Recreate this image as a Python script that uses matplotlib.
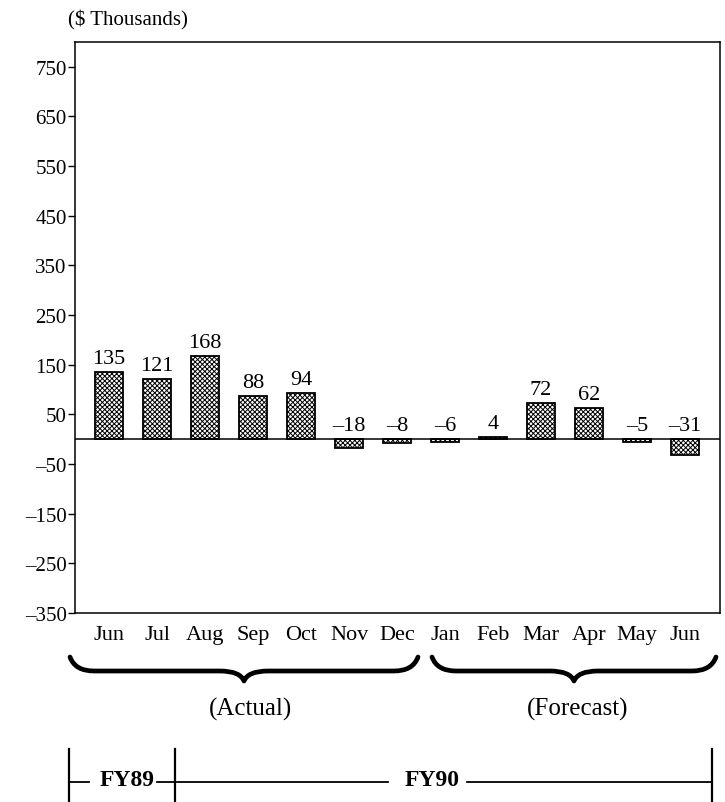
import matplotlib
matplotlib.use("Agg")
import matplotlib.pyplot as plt
from matplotlib.path import Path
from matplotlib.patches import PathPatch
from matplotlib.lines import Line2D

months = ["Jun", "Jul", "Aug", "Sep", "Oct", "Nov", "Dec",
          "Jan", "Feb", "Mar", "Apr", "May", "Jun"]
cash_flow = [135, 121, 168, 88, 94, -18, -8, -6, 4, 72, 62, -5, -31]
y_ticks = [750, 650, 550, 450, 350, 250, 150, 50, -50, -150, -250, -350]

W, H = 725, 803
plt.rcParams["font.family"] = ["Liberation Serif", "DejaVu Serif"]
plt.rcParams["hatch.linewidth"] = 0.7

fig = plt.figure(figsize=(W / 100, H / 100), dpi=100)


def fx(x, y):
    """Pixel position (origin top-left) -> figure fraction."""
    return (x / W, 1 - y / H)


ax = fig.add_axes([75 / W, 1 - 614 / H, (720 - 75) / W, (614 - 43) / H])
x = list(range(len(months)))
ax.bar(x, cash_flow, width=0.58, facecolor="white", edgecolor="black",
       hatch="xxxxxxx", linewidth=1.3, zorder=2)
ax.axhline(0, color="black", lw=1.1, zorder=3)

for xi, v in zip(x, cash_flow):
    label = str(v).replace("-", "\u2013")
    ax.text(xi, max(v, 0) + 8, label, ha="center", va="bottom", fontsize=16)

ax.set_xlim(-0.71, 12.73)
ax.set_ylim(-350, 800)
ax.set_yticks(y_ticks)
ax.set_yticklabels([str(t).replace("-", "\u2013") for t in y_ticks], fontsize=15)
ax.set_xticks(x)
ax.set_xticklabels(months, fontsize=16)
ax.tick_params(axis="x", length=0, pad=9)
ax.tick_params(axis="y", length=5, width=1, pad=1)
for s in ax.spines.values():
    s.set_linewidth(1.1)

fig.text(*fx(68, 20), "($ Thousands)", fontsize=15, ha="left", va="center")


def brace(x0, x1, ytop, ymid, ytip, r=24):
    xc = (x0 + x1) / 2
    pts = [(x0, ytop), (x0 + 5, ymid), (x0 + r, ymid),
           (xc - r, ymid),
           (xc - 4, ymid), (xc, ytip),
           (xc + 4, ymid), (xc + r, ymid),
           (x1 - r, ymid),
           (x1 - 5, ymid), (x1, ytop)]
    codes = [Path.MOVETO, Path.CURVE3, Path.CURVE3,
             Path.LINETO,
             Path.CURVE3, Path.CURVE3,
             Path.CURVE3, Path.CURVE3,
             Path.LINETO,
             Path.CURVE3, Path.CURVE3]
    verts = [fx(px, py) for px, py in pts]
    fig.add_artist(PathPatch(Path(verts, codes), fill=False, lw=3.4,
                             edgecolor="black", capstyle="round",
                             joinstyle="round", transform=fig.transFigure))


brace(70, 418, 658, 672, 682)
brace(432, 716, 658, 672, 682)
fig.text(*fx(250, 709), "(Actual)", fontsize=18, ha="center", va="center")
fig.text(*fx(578, 709), "(Forecast)", fontsize=18, ha="center", va="center")


def fline(xs, ys, lw=1.3):
    fig.add_artist(Line2D([fx(a, 0)[0] for a in xs], [fx(0, b)[1] for b in ys],
                          color="black", lw=lw, transform=fig.transFigure))


# fiscal year timeline
fline([69, 69], [750, 803], lw=1.6)
fline([175, 175], [750, 803], lw=1.6)
fline([712, 712], [750, 803], lw=1.6)
fline([69, 89], [783, 783])
fline([157, 175], [783, 783])
fline([175, 388], [783, 783])
fline([467, 712], [783, 783])
fig.text(*fx(127, 781), "FY89", fontsize=17, fontweight="bold",
         ha="center", va="center")
fig.text(*fx(432, 781), "FY90", fontsize=17, fontweight="bold",
         ha="center", va="center")

fig.savefig("out.png", dpi=100)
